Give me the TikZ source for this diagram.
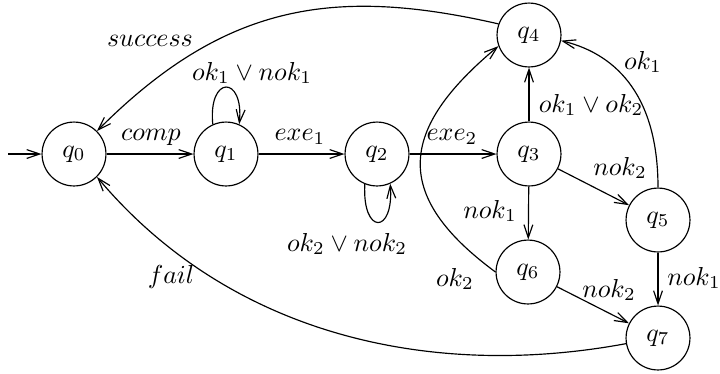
\documentclass[tikz,border=0pt]{standalone}
\usetikzlibrary{arrows.meta}
\begin{document}
\begin{tikzpicture}[x=0.385pt,y=-0.385pt,
  st/.style={circle,draw,line width=0.45pt,minimum size=24.6pt,inner sep=0pt},
  arr/.style={line width=0.45pt,-{Straight Barb[length=5pt,width=3.4pt,line width=0.45pt]}},
  lbl/.style={inner sep=0pt}]
\useasboundingbox (0,0) rectangle (720,373);
\node[st] (q0) at (74,154) {$q_0$};
\node[st] (q1) at (226,154) {$q_1$};
\node[st] (q2) at (377,154) {$q_2$};
\node[st] (q3) at (529,154) {$q_3$};
\node[st] (q4) at (529,35) {$q_4$};
\node[st] (q5) at (658,220) {$q_5$};
\node[st] (q6) at (528,272) {$q_6$};
\node[st] (q7) at (658,338) {$q_7$};
\coordinate (init) at (8,154);
\draw[arr] (init) -- (q0);
\draw[arr] (q0) -- (q1);
\draw[arr] (q1) -- (q2);
\draw[arr] (q2) -- (q3);
\draw[arr] (q3) -- (q4);
\draw[arr] (q3) -- (q5);
\draw[arr] (q3) -- (q6);
\draw[arr] (q5) -- (q7);
\draw[arr] (q6) -- (q7);
\draw[arr] (q1.114) .. controls (208,75) and (244,75) .. (q1.66);
\draw[arr] (q2.-112) .. controls (362,235) and (394,235) .. (q2.-66);
\draw[arr] (q4.160) .. controls (333,-14) and (224,4) .. (q0.45);
\draw[arr] (q7.190) .. controls (430,380) and (230,335) .. (q0.-45);
\draw[arr] (q6.180) .. controls (391,195) and (399,129) .. (q4.200);
\draw[arr] (q5.90) .. controls (658,100) and (620,55) .. (q4.-10);
\node[lbl] (lsucc) at (150,41) {$success$};
\node[lbl] (lloop1) at (252,73) {$ok_1\vee nok_1$};
\node[lbl] (lcomp) at (151,137) {$comp$};
\node[lbl] (lexe1) at (300,137) {$exe_1$};
\node[lbl] (lexe2) at (452,137) {$exe_2$};
\node[lbl] (lloop2) at (347,244) {$ok_2\vee nok_2$};
\node[lbl] (lok12) at (591,105) {$ok_1\vee ok_2$};
\node[lbl] (lok1) at (643,62) {$ok_1$};
\node[lbl] (lnok2a) at (620,168) {$nok_2$};
\node[lbl] (lnok1a) at (490,211) {$nok_1$};
\node[lbl] (lnok1b) at (694,278) {$nok_1$};
\node[lbl] (lnok2b) at (609,290) {$nok_2$};
\node[lbl] (lok2) at (455,279) {$ok_2$};
\node[lbl] (lfail) at (171,277) {$fail$};
\end{tikzpicture}
\end{document}
